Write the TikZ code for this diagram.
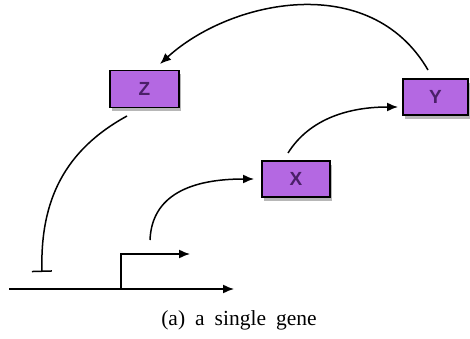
\documentclass[tikz,border=0pt]{standalone}
\usepackage{fontspec}
\setmainfont{Liberation Serif}
\newfontfamily\boxfont{Liberation Sans}
\usetikzlibrary{arrows.meta,shadows}
\definecolor{boxfill}{HTML}{B468E2}
\definecolor{boxtext}{HTML}{4A2068}
\tikzset{
  gene/.style={draw=black, line width=1.8pt, fill=boxfill, minimum height=37pt, inner sep=0pt,
    font=\boxfont\fontsize{19}{19}\selectfont\bfseries, text=boxtext,
    drop shadow={shadow xshift=2pt, shadow yshift=-4pt, opacity=0.4, fill=black!70}},
  conn/.style={line width=1.5pt, black},
  arr/.style={conn, -{Latex[length=11pt,width=9pt]}},
  inh/.style={conn, -{Bar[width=20pt,line width=1.5pt]}},
}
\begin{document}
\begin{tikzpicture}[x=1pt,y=-1pt]
\useasboundingbox (0,0) rectangle (470,339);
\node[gene, minimum width=69pt] (Z) at (144.5,89) {Z};
\node[gene, minimum width=68pt, minimum height=36pt] (X) at (296,179) {X};
\node[gene, minimum width=65pt, minimum height=36pt] (Y) at (435.5,97) {Y};
% DNA line and promoter
\coordinate (L0) at (9,289);
\coordinate (L1) at (234,289);
\coordinate (P0) at (121,289);
\coordinate (P1) at (121,254);
\coordinate (P2) at (190,254);
\draw[arr] (L0) -- (L1);
\draw[arr] (P0) -- (P1) -- (P2);
% connectors
\coordinate (ys) at (428,70);
\coordinate (ze) at (160,64);
\draw[arr] (ys) .. controls (370,-30) and (230,0) .. (ze);
\coordinate (zs) at (127,116);
\coordinate (te) at (42,272);
\draw[inh] (zs) .. controls (65,150) and (40,200) .. (te);
\coordinate (ps) at (150,240);
\coordinate (xe) at (254,179);
\draw[arr] (ps) .. controls (152,190) and (200,179) .. (xe);
\coordinate (xs) at (288,153);
\coordinate (yeb) at (398,107);
\draw[arr] (xs) .. controls (310,118) and (350,107) .. (yeb);
\node[font=\fontsize{21.5}{21.5}\selectfont, anchor=base] (cap) at (239,325) {\spaceskip=10pt plus 0pt (a) a single gene};
\end{tikzpicture}
\end{document}
